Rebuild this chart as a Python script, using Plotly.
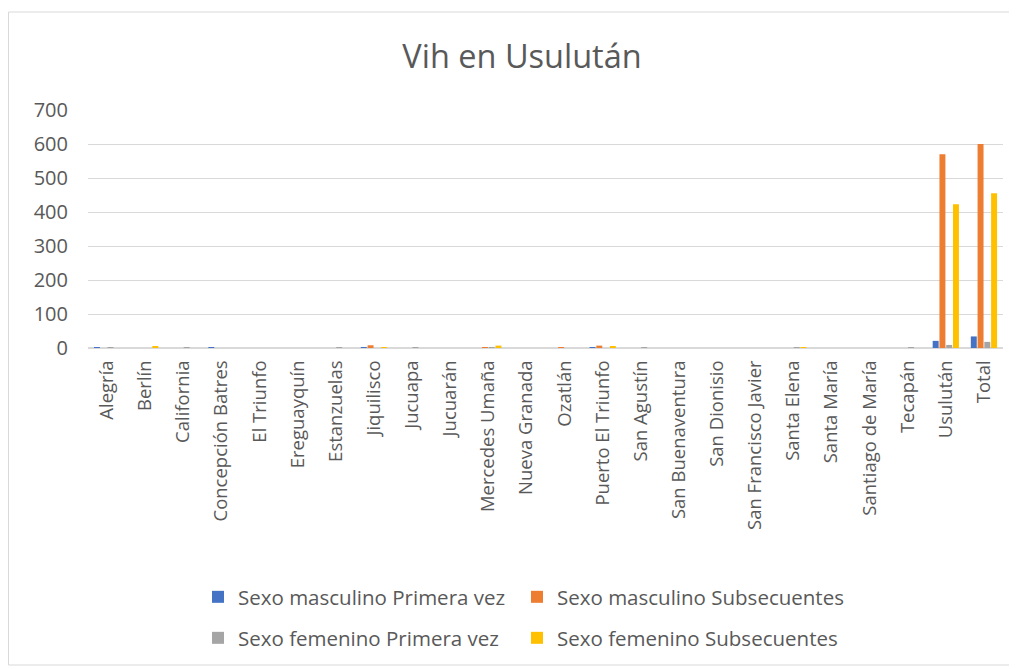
import plotly.graph_objects as go

categories = ["Alegría", "Berlín", "California", "Concepción Batres", "El Triunfo",
              "Ereguayquín", "Estanzuelas", "Jiquilisco", "Jucuapa", "Jucuarán",
              "Mercedes Umaña", "Nueva Granada", "Ozatlán", "Puerto El Triunfo",
              "San Agustín", "San Buenaventura", "San Dionisio", "San Francisco Javier",
              "Santa Elena", "Santa María", "Santiago de María", "Tecapán", "Usulután", "Total"]

masc_primera = [1, 0, 0, 1, 0, 0, 0, 1, 0, 0, 0, 0, 0, 1, 0, 0, 0, 0, 0, 0, 0, 0, 21, 34]
masc_subsec = [0, 0, 0, 0, 0, 0, 0, 8, 0, 0, 1, 0, 1, 7, 0, 0, 0, 0, 0, 0, 0, 0, 570, 600]
fem_primera = [1, 0, 1, 0, 0, 0, 2, 0, 1, 0, 2, 0, 0, 0, 1, 0, 0, 0, 1, 0, 0, 2, 9, 18]
fem_subsec = [0, 4, 0, 0, 0, 0, 0, 2, 0, 0, 7, 0, 0, 4, 0, 0, 0, 0, 1, 0, 0, 0, 423, 455]

series = [
    ("Sexo masculino Primera vez", masc_primera, "#4472C4", "legend"),
    ("Sexo masculino Subsecuentes", masc_subsec, "#ED7D31", "legend2"),
    ("Sexo femenino Primera vez", fem_primera, "#A5A5A5", "legend3"),
    ("Sexo femenino Subsecuentes", fem_subsec, "#FFC000", "legend4"),
]

font_family = "Open Sans, sans-serif"
text_color = "#595959"

fig = go.Figure()
for name, vals, color, lg in series:
    fig.add_trace(go.Bar(x=categories, y=vals, name=name, marker_color=color,
                         marker_line_width=0, legend=lg))

# page has an 8px body margin; figure occupies the rest of the window
W, H = 1009, 661
L, R, T, B = 80, 14, 102, 321
pw = W - L - R
ph = H - T - B


def px_x(p):
    return (p - L) / pw


def px_y(p):
    return (H - B - p) / ph


legend_common = dict(orientation="h", xanchor="left", yanchor="middle",
                     font=dict(size=20.5, color=text_color, family=font_family),
                     itemwidth=30, bgcolor="rgba(0,0,0,0)")

fig.update_layout(
    width=W, height=H,
    margin=dict(l=L, r=R, t=T, b=B, autoexpand=False),
    paper_bgcolor="white", plot_bgcolor="white",
    font=dict(family=font_family, color=text_color, size=19),
    title=dict(text="Vih en Usulután", x=514 / W, xanchor="center",
               y=1 - 49 / H, yanchor="middle",
               font=dict(size=32.5, color=text_color, family=font_family)),
    barmode="group", bargap=0.29, bargroupgap=0.12,
    showlegend=True,
    legend=dict(x=px_x(190), y=px_y(589), **legend_common),
    legend2=dict(x=px_x(509), y=px_y(589), **legend_common),
    legend3=dict(x=px_x(190), y=px_y(630), **legend_common),
    legend4=dict(x=px_x(509), y=px_y(630), **legend_common),
    xaxis=dict(tickangle=-90, showgrid=False, showline=True, linecolor="#D9D9D9",
               linewidth=1, ticks="", tickfont=dict(size=18.5, color=text_color),
               ticklabelstandoff=4, automargin=False),
    yaxis=dict(range=[0, 700], dtick=100, showgrid=True, gridcolor="#D9D9D9",
               gridwidth=1, zeroline=True, zerolinecolor="#D9D9D9", showline=False,
               ticks="", tickfont=dict(size=20, color=text_color), ticklabelstandoff=19,
               automargin=False),
    shapes=[dict(type="rect", xref="paper", yref="paper",
                 x0=px_x(0.5), x1=px_x(1002), y0=px_y(657), y1=px_y(4),
                 line=dict(color="#D9D9D9", width=1), fillcolor="rgba(0,0,0,0)",
                 layer="below")],
)

fig.write_html("out.html")
